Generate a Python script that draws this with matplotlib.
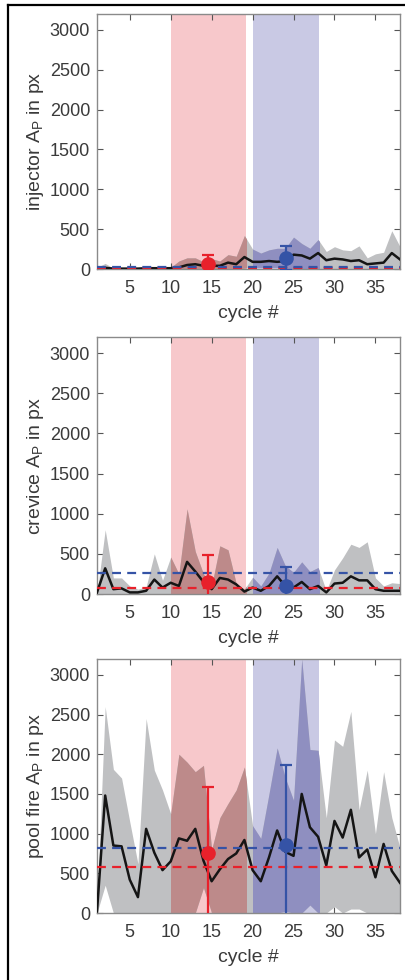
import matplotlib
matplotlib.use("Agg")
import matplotlib.pyplot as plt
from matplotlib.lines import Line2D
import numpy as np

plt.rcParams['font.family'] = ['Liberation Sans', 'DejaVu Sans']
plt.rcParams['mathtext.fontset'] = 'custom'
plt.rcParams['mathtext.rm'] = 'Liberation Sans'
plt.rcParams['mathtext.it'] = 'Liberation Sans'

# ---------------- data ----------------
cycles = list(range(1, 39))

# injector
inj_mean = [10, 15, 5, 5, 5, 5, 10, 10, 10, 10, 20, 50, 60, 40, 40, 40, 80, 60, 150, 90,
            90, 100, 90, 100, 180, 170, 130, 200, 110, 130, 120, 100, 110, 60, 70, 80, 200, 120]
inj_upper = [20, 70, 10, 10, 10, 10, 30, 20, 20, 20, 100, 140, 140, 90, 130, 100, 180, 160, 420, 250,
             200, 240, 260, 260, 400, 320, 260, 370, 220, 280, 240, 230, 290, 140, 190, 210, 480, 280]
inj_lower = [0, 0, 0, 0, 0, 0, 0, 0, 0, 0, 0, 0, 0, 0, 0, 0, 0, 0, 10, 20,
             20, 20, 20, 10, 0, 0, 0, 0, 0, 0, 0, 0, 0, 0, 0, 0, 0, 0]
inj_ref_red = 10
inj_ref_blue = 25
inj_pt_red = [60, 120]      # mean, error
inj_pt_blue = [140, 150]

# crevice
crv_mean = [20, 320, 60, 70, 20, 20, 40, 180, 80, 140, 100, 400, 280, 150, 60, 200, 180, 120, 30, 80,
            40, 100, 220, 100, 80, 150, 60, 100, 20, 130, 140, 220, 170, 170, 60, 40, 40, 40]
crv_upper = [0, 800, 200, 200, 100, 60, 90, 500, 170, 460, 250, 1060, 530, 250, 100, 600, 550, 130, 60, 210,
             100, 260, 580, 350, 270, 400, 280, 330, 40, 300, 450, 620, 580, 650, 200, 100, 140, 130]
crv_lower = [0] * 38
crv_ref_red = 70
crv_ref_blue = 265
crv_pt_red = [155, 328]
crv_pt_blue = [104, 236]

# pool fire
pf_mean = [20, 1480, 850, 840, 420, 200, 1060, 760, 540, 650, 940, 910, 1060, 660, 400, 550, 680, 750, 920, 540,
           400, 700, 1040, 770, 720, 1500, 1080, 960, 600, 1160, 950, 1300, 700, 800, 450, 870, 530, 380]
pf_upper = [100, 2600, 1810, 1700, 1150, 620, 2450, 1800, 1550, 1250, 2000, 1900, 1780, 1860, 800, 1200, 1380, 1550, 1840, 1100,
            940, 1500, 2080, 1700, 1420, 3200, 2060, 2050, 1200, 2180, 2100, 2540, 1300, 1800, 1000, 1780, 1200, 820]
pf_lower = [0, 350, 0, 0, 0, 0, 0, 0, 0, 0, 0, 0, 0, 320, 0, 0, 0, 0, 0, 0,
            0, 0, 0, 20, 0, 0, 100, 0, 0, 80, 0, 50, 50, 0, 0, 0, 0, 0]
pf_ref_red = 585
pf_ref_blue = 820
pf_pt_red = [750, 840]
pf_pt_blue = [860, 1010]

labels = ["injector", "crevice", "pool fire"]
span_red = [10, 19.2]
span_blue = [20, 28.1]
pt_x = [14.6, 24.05]
yticks = [0, 500, 1000, 1500, 2000, 2500, 3000]
xticks = [5, 10, 15, 20, 25, 30, 35]

panels = [
    (inj_mean, inj_upper, inj_lower, inj_ref_red, inj_ref_blue, inj_pt_red, inj_pt_blue),
    (crv_mean, crv_upper, crv_lower, crv_ref_red, crv_ref_blue, crv_pt_red, crv_pt_blue),
    (pf_mean, pf_upper, pf_lower, pf_ref_red, pf_ref_blue, pf_pt_red, pf_pt_blue),
]

# ---------------- styles ----------------
RED = '#e8212b'
BLUE = '#3553a6'
RED_SHADE = '#f7c8cb'
BLUE_SHADE = '#c9c9e4'
GRAY = '#bfc0c2'
GRAY_RED = '#bd8a8a'
GRAY_BLUE = '#8f8fc0'
TXT = '#3a3a3a'

fig = plt.figure(figsize=(4.06, 9.8), dpi=100)

axes_px = [(14, 269), (337, 594), (659, 913)]
W, H = 406, 980
left, right = 97, 400

for i, (lab, data, (top, bot)) in enumerate(zip(labels, panels, axes_px)):
    mean, up, lo, rref, bref, prd, pbl = data
    ax = fig.add_axes([left / W, 1 - bot / H, (right - left) / W, (bot - top) / H])
    sp_r = ax.axvspan(span_red[0], span_red[1], color=RED_SHADE, lw=0, zorder=1)
    sp_b = ax.axvspan(span_blue[0], span_blue[1], color=BLUE_SHADE, lw=0, zorder=1)
    ax.fill_between(cycles, lo, up, color=GRAY, lw=0, zorder=2)
    fr = ax.fill_between(cycles, lo, up, color=GRAY_RED, lw=0, zorder=2.1)
    fr.set_clip_path(sp_r)
    fb = ax.fill_between(cycles, lo, up, color=GRAY_BLUE, lw=0, zorder=2.1)
    fb.set_clip_path(sp_b)
    ax.plot(cycles, mean, color='#151515', lw=1.8, zorder=3)
    ax.axhline(rref, color=RED, lw=1.6, ls=(0, (4, 2.8)), zorder=4)
    ax.axhline(bref, color=BLUE, lw=1.6, ls=(0, (4, 2.8)), zorder=4.1)
    ax.errorbar([pt_x[0]], [prd[0]], yerr=[prd[1]], fmt='o', color=RED, ms=9.5,
                elinewidth=1.6, capsize=4, capthick=1.6, zorder=5)
    ax.errorbar([pt_x[1]], [pbl[0]], yerr=[pbl[1]], fmt='o', color=BLUE, ms=9.5,
                elinewidth=1.6, capsize=4, capthick=1.6, zorder=5)

    ax.set_xlim(1, 38)
    ax.set_ylim(0, 3200)
    ax.set_xticks(xticks)
    ax.set_yticks(yticks)
    ax.tick_params(direction='in', top=True, right=True, length=4, width=0.8,
                   color='#555555', labelsize=13, labelcolor=TXT)
    ax.tick_params(axis='x', pad=8)
    ax.tick_params(axis='y', pad=5)
    for s in ax.spines.values():
        s.set_color('#8a8a8a')
        s.set_linewidth(1.0)
    ax.set_xlabel('cycle #', fontsize=14, color=TXT, labelpad=6)
    ax.set_ylabel(lab + r' A$_{\rm P}$ in px', fontsize=14, color=TXT, labelpad=3)

# outer frame (left and top edges)
fig.add_artist(Line2D([8 / W, 8 / W], [0, 1 - 5 / H], transform=fig.transFigure,
                      color='black', lw=1.6))
fig.add_artist(Line2D([8 / W, 1], [1 - 5 / H, 1 - 5 / H], transform=fig.transFigure,
                      color='black', lw=1.6))

fig.savefig('out.png', dpi=100)
